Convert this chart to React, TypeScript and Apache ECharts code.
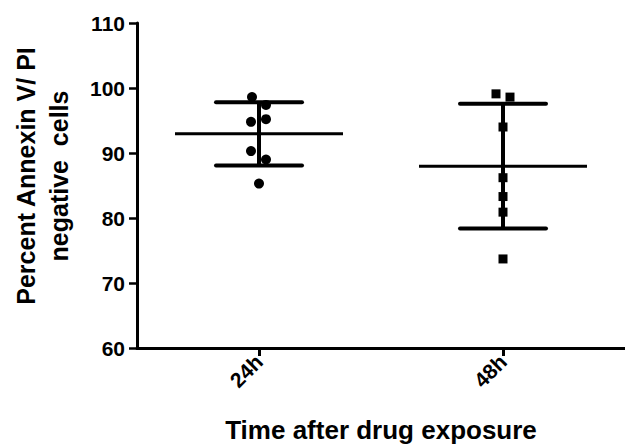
import React, { useEffect, useRef } from "react";
import * as echarts from "echarts";

// Time points after drug exposure
const categories = ["24h", "48h"];

// Percent Annexin V / PI negative cells, one value per replicate
const values24h = [98.6, 97.4, 94.8, 95.2, 90.3, 89.0, 85.3];
const values48h = [99.1, 98.6, 94.0, 86.2, 83.3, 80.9, 73.7];

// Horizontal scatter spread (px) so overlapping points stay visible
const spread24h = [-7, 7, -8, 7, -8, 7, 0];
const spread48h = [-7, 7, 0, 0, 0, 0, 0];

const yTicks = { min: 60, max: 110, interval: 10 };

const FONT = "'Liberation Sans', Arial, Helvetica, sans-serif";

function mean(a: number[]) {
  return a.reduce((s, v) => s + v, 0) / a.length;
}
function sd(a: number[]) {
  const m = mean(a);
  return Math.sqrt(a.reduce((s, v) => s + (v - m) * (v - m), 0) / (a.length - 1));
}

export default function App() {
  const ref = useRef<HTMLDivElement>(null);

  useEffect(() => {
    if (!ref.current) return;
    const chart = echarts.init(ref.current, null, { renderer: "svg" });

    const groups = [values24h, values48h];
    const summary = groups.map((g, i) => [i, mean(g), sd(g)]);

    const pointData = (vals: number[], spread: number[], idx: number) =>
      vals.map((v, k) => ({ value: [idx, v], symbolOffset: [spread[k], 0] }));

    chart.setOption({
      animation: false,
      backgroundColor: "#ffffff",
      // plot area runs slightly past the right edge, as the x axis line does
      grid: { left: 137, top: 23, width: 495, height: 330, containLabel: false },
      xAxis: {
        type: "category",
        data: categories,
        boundaryGap: true,
        name: "Time after drug exposure",
        nameLocation: "middle",
        nameGap: 69,
        nameTextStyle: { fontFamily: FONT, fontWeight: "bold", fontSize: 26, color: "#000" },
        axisLine: { show: true, lineStyle: { color: "#000", width: 3 } },
        axisTick: { show: true, alignWithLabel: true, length: 8, lineStyle: { color: "#000", width: 3 } },
        axisLabel: {
          rotate: 45,
          margin: 10,
          fontFamily: FONT,
          fontWeight: "bold",
          fontSize: 21,
          color: "#000",
        },
        splitLine: { show: false },
      },
      yAxis: {
        type: "value",
        min: yTicks.min,
        max: yTicks.max,
        interval: yTicks.interval,
        axisLine: { show: true, lineStyle: { color: "#000", width: 3 } },
        axisTick: { show: true, length: 8, lineStyle: { color: "#000", width: 2.5 } },
        axisLabel: {
          margin: 12,
          fontFamily: FONT,
          fontWeight: "bold",
          fontSize: 21,
          color: "#000",
        },
        splitLine: { show: false },
      },
      graphic: [
        {
          type: "text",
          x: 42,
          y: 176,
          rotation: Math.PI / 2,
          style: {
            text: "Percent Annexin V/ PI\nnegative  cells",
            fontFamily: FONT,
            fontWeight: "bold",
            fontSize: 25,
            fill: "#000",
            align: "center",
            verticalAlign: "middle",
            lineHeight: 33,
          },
        },
      ],
      series: [
        {
          type: "custom",
          z: 2,
          data: summary,
          renderItem: (params: any, api: any) => {
            const x = api.value(0);
            const m = api.value(1);
            const s = api.value(2);
            const c = api.coord([x, m]);
            const t = api.coord([x, m + s]);
            const b = api.coord([x, m - s]);
            const st = { stroke: "#000", lineWidth: 4 };
            return {
              type: "group",
              children: [
                { type: "line", shape: { x1: c[0] - 84, y1: c[1], x2: c[0] + 84, y2: c[1] }, style: { stroke: "#000", lineWidth: 3 } },
                { type: "line", shape: { x1: t[0], y1: t[1], x2: b[0], y2: b[1] }, style: st },
                { type: "line", shape: { x1: t[0] - 43, y1: t[1], x2: t[0] + 43, y2: t[1] }, style: { ...st, lineCap: "round" } },
                { type: "line", shape: { x1: b[0] - 43, y1: b[1], x2: b[0] + 43, y2: b[1] }, style: { ...st, lineCap: "round" } },
              ],
            };
          },
        },
        {
          type: "scatter",
          z: 3,
          symbol: "circle",
          symbolSize: 10,
          itemStyle: { color: "#000", opacity: 1 },
          data: pointData(values24h, spread24h, 0),
        },
        {
          type: "scatter",
          z: 3,
          symbol: "rect",
          symbolSize: 9,
          itemStyle: { color: "#000", opacity: 1 },
          data: pointData(values48h, spread48h, 1),
        },
      ],
    });

    return () => chart.dispose();
  }, []);

  return (
    <div
      ref={ref}
      style={{ position: "absolute", left: 0, top: 0, width: 625, height: 448 }}
    />
  );
}
